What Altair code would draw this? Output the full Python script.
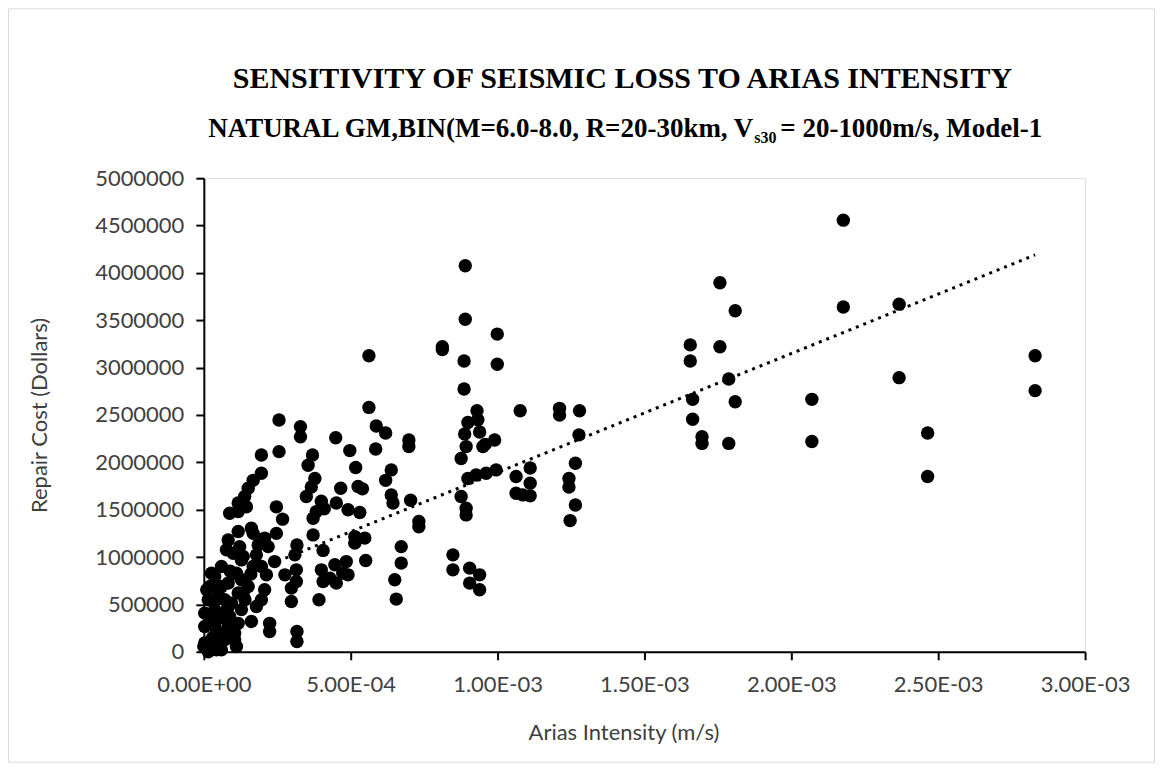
import altair as alt
import pandas as pd

# ---- data (Arias intensity in 1e-3 m/s, repair cost in millions of dollars) ----
arias_milli = [
    2.177, 1.757, 1.809, 2.177, 2.367, 1.656, 1.656, 1.757, 1.787, 1.664, 1.809, 2.070, 2.367,
    2.830, 2.830, 1.664, 1.696, 1.696, 1.787, 2.070, 2.464, 2.464,
    0.999, 0.999, 1.077, 1.211, 1.211, 1.279, 1.277, 0.990, 1.063, 1.111, 1.063, 1.111, 1.111,
    1.086, 1.265, 1.243, 1.243, 1.265, 1.247,
    0.890, 0.890, 0.812, 0.812, 0.886, 0.886, 0.930, 0.899, 0.933, 0.888, 0.939, 0.950, 0.893,
    0.876, 0.958, 0.899, 0.927, 0.961, 0.995, 0.876, 0.893, 0.893, 0.848, 0.848, 0.905, 0.939,
    0.905, 0.939,
    0.562, 0.562, 0.587, 0.619, 0.698, 0.698, 0.585, 0.497, 0.517, 0.638, 0.619, 0.525, 0.540,
    0.638, 0.644, 0.704, 0.531, 0.732, 0.732, 0.514, 0.548, 0.514, 0.672, 0.672, 0.551, 0.650,
    0.655, 0.491, 0.491, 0.485,
    0.449, 0.329, 0.329, 0.370, 0.355, 0.378, 0.366, 0.349, 0.466, 0.400, 0.383, 0.372, 0.451,
    0.372, 0.317, 0.310, 0.406, 0.446, 0.400, 0.473, 0.429, 0.406, 0.451, 0.315, 0.276, 0.315,
    0.298, 0.298, 0.392, 0.317, 0.317, 0.410,
    0.256, 0.196, 0.256, 0.196, 0.168, 0.151, 0.139, 0.117, 0.247, 0.268, 0.088, 0.117, 0.145,
    0.117, 0.162, 0.083, 0.077, 0.168, 0.207, 0.185, 0.247, 0.219, 0.241, 0.100, 0.179, 0.128,
    0.196, 0.213, 0.060, 0.037, 0.020, 0.015, 0.037, 0.071, 0.083, 0.128, 0.207, 0.196, 0.151,
    0.117, 0.162, 0.224, 0.224, 0.128, 0.117, 0.105, 0.071, 0.037, 0.003, 0.003, 0.003, 0.083,
    0.060, 0.037, 0.094, 0.060, 0.000, 0.026, 0.060, 0.179, 0.134, 0.122, 0.026, 0.043, 0.111,
    0.088, 0.020, 0.043, 0.111, 0.168, 0.134, 0.066, 0.105, 0.010, 0.050, 0.080, 0.140, 0.160,
    0.050, 0.030, 0.015, 0.090,
]
repair_millions = [
    4.557, 3.896, 3.600, 3.640, 3.670, 3.240, 3.070, 3.220, 2.880, 2.665, 2.640, 2.665, 2.894,
    3.126, 2.757, 2.455, 2.270, 2.200, 2.200, 2.220, 2.310, 1.850,
    3.354, 3.035, 2.545, 2.570, 2.500, 2.545, 2.290, 2.236, 1.850, 1.940, 1.674, 1.780, 1.646,
    1.656, 1.990, 1.830, 1.740, 1.550, 1.385,
    4.075, 3.510, 3.220, 3.190, 3.070, 2.775, 2.545, 2.420, 2.450, 2.300, 2.320, 2.166, 2.166,
    2.040, 2.190, 1.830, 1.867, 1.885, 1.920, 1.640, 1.515, 1.445, 1.023, 0.865, 0.883, 0.812,
    0.725, 0.654,
    3.126, 2.580, 2.384, 2.310, 2.236, 2.166, 2.140, 2.124, 1.945, 1.920, 1.810, 1.745, 1.720,
    1.656, 1.570, 1.600, 1.470, 1.375, 1.320, 1.216, 1.200, 1.147, 1.110, 0.936, 0.963, 0.760,
    0.556, 1.500, 0.812, 0.952,
    2.260, 2.377, 2.270, 2.078, 1.970, 1.830, 1.740, 1.640, 1.727, 1.590, 1.480, 1.410, 1.570,
    1.234, 1.128, 1.023, 1.070, 0.918, 0.865, 0.830, 0.777, 0.742, 0.725, 0.865, 0.812, 0.742,
    0.672, 0.530, 0.550, 0.214, 0.109, 1.510,
    2.447, 2.078, 2.113, 1.885, 1.810, 1.727, 1.640, 1.570, 1.530, 1.400, 1.463, 1.480, 1.530,
    1.270, 1.305, 1.180, 1.076, 1.250, 1.200, 1.128, 1.250, 1.110, 0.952, 1.040, 1.023, 0.970,
    0.900, 0.812, 0.900, 0.794, 0.689, 0.550, 0.445, 0.550, 0.725, 0.760, 0.654, 0.550, 0.689,
    0.620, 0.320, 0.300, 0.214, 0.445, 0.300, 0.127, 0.127, 0.127, 0.092, 0.267, 0.408, 0.267,
    0.372, 0.267, 0.514, 0.689, 0.056, 0.020, 0.020, 0.478, 1.005, 1.110, 0.830, 0.550, 0.830,
    0.372, 0.372, 0.020, 0.056, 0.900, 0.620, 0.197, 0.197, 0.654, 0.600, 0.450, 0.550, 0.820,
    0.350, 0.150, 0.000, 0.850,
]

# linear trend line end points
trend_x = [0.0, 2.83e-3]
trend_y = [0.64e6, 4.19e6]

x_tick_values = [0.0, 0.0005, 0.001, 0.0015, 0.002, 0.0025, 0.003]
x_tick_labels = ["0.00E+00", "5.00E-04", "1.00E-03", "1.50E-03", "2.00E-03", "2.50E-03", "3.00E-03"]
y_tick_values = [0, 500000, 1000000, 1500000, 2000000, 2500000, 3000000, 3500000, 4000000, 4500000, 5000000]

title_text = "SENSITIVITY OF SEISMIC LOSS TO ARIAS INTENSITY"
subtitle_part1 = "NATURAL GM,BIN(M=6.0-8.0, R=20-30km, V"
subtitle_sub = "s30"
subtitle_part2 = " = 20-1000m/s, Model-1"
x_title = "Arias Intensity (m/s)"
y_title = "Repair Cost (Dollars)"

W, H = 882, 474
PAD = {"left": 196, "top": 170, "right": 70, "bottom": 111}

df = pd.DataFrame({
    "arias": [v * 1e-3 for v in arias_milli],
    "cost": [v * 1e6 for v in repair_millions],
})
trend_df = pd.DataFrame({"arias": trend_x, "cost": trend_y})

label_expr = "[" + ",".join(f"'{s}'" for s in x_tick_labels) + "][round(datum.value / 0.0005)]"

x_scale = alt.Scale(domain=[0, 0.003], nice=False, zero=True)
y_scale = alt.Scale(domain=[0, 5000000], nice=False)

axis_common = dict(
    grid=False,
    domainColor="#000000",
    domainWidth=2,
    tickColor="#000000",
    tickWidth=2,
    tickSize=8,
    labelFont="Lato",
    labelFontSize=22,
    labelColor="#404040",
    titleFont="Lato",
    titleFontSize=22,
    titleFontWeight="normal",
    titleColor="#404040",
)

points = alt.Chart(df).mark_circle(size=180, color="#000000", opacity=1).encode(
    x=alt.X("arias:Q", scale=x_scale,
            axis=alt.Axis(values=x_tick_values, labelExpr=label_expr, title=x_title,
                          labelPadding=15, titleX=420, titleY=81, titleBaseline="middle",
                          titleAlign="center", labelFlush=False, **axis_common)),
    y=alt.Y("cost:Q", scale=y_scale,
            axis=alt.Axis(values=y_tick_values, format="d", title=y_title,
                          labelPadding=12, titleX=-164, titleY=237, titleAngle=270,
                          titleBaseline="middle", titleAlign="center", labelFlush=False,
                          **axis_common)),
)

trend = alt.Chart(trend_df).mark_line(color="#000000", strokeWidth=3, strokeDash=[3, 5]).encode(
    x=alt.X("arias:Q", scale=x_scale),
    y=alt.Y("cost:Q", scale=y_scale),
)

def text_layer(txt, x, y, size, align, weight="bold", font="Liberation Serif"):
    return alt.Chart(pd.DataFrame({"t": [txt]})).mark_text(
        font=font, fontSize=size, fontWeight=weight, align=align, baseline="alphabetic",
        color="#000000",
    ).encode(text="t:N", x=alt.value(x), y=alt.value(y))

title = text_layer(title_text, 419, -90, 30, "center")
sub1 = text_layer(subtitle_part1, 550, -41, 27, "right")
sub2 = text_layer(subtitle_sub, 551, -35, 16, "left")
sub3 = text_layer(subtitle_part2, 577, -41, 27, "left")

border = alt.Chart(pd.DataFrame({"k": [0]})).mark_rect(
    fill="transparent", stroke="#d9d9d9", strokeWidth=1
).encode(
    x=alt.value(-PAD["left"] + 0.5), x2=alt.value(W + PAD["right"] - 0.5),
    y=alt.value(-PAD["top"] + 0.5), y2=alt.value(H + PAD["bottom"] - 0.5),
)

chart = alt.layer(border, points, trend, title, sub1, sub2, sub3).properties(
    width=W, height=H, padding=PAD, autosize="none",
).configure_view(stroke=None).configure(background="#ffffff")

chart.save("out.html", embed_options={"renderer": "svg", "actions": False})
